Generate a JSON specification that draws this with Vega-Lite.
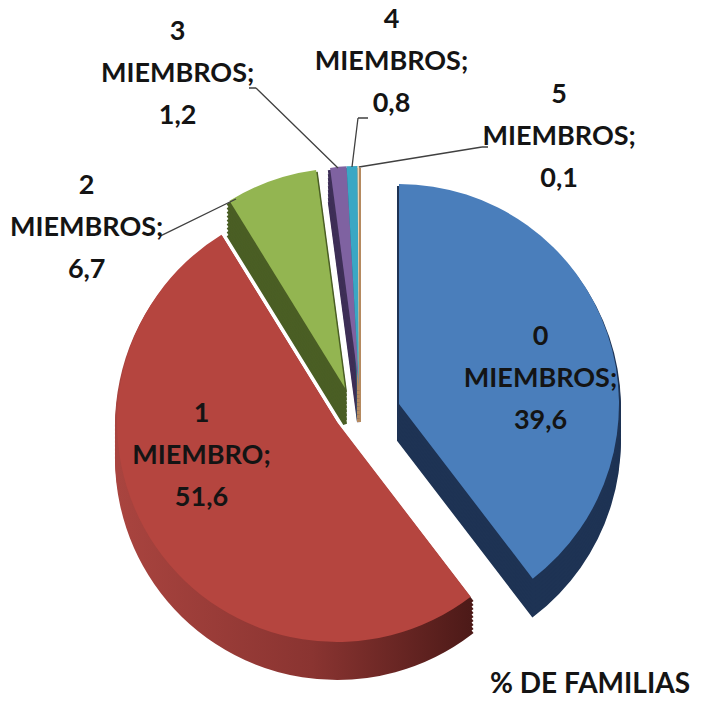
{
  "$schema": "https://vega.github.io/schema/vega-lite/v6.json",
  "width": 710,
  "height": 702,
  "padding": 0,
  "autosize": {"type": "none"},
  "background": "white",
  "config": {"view": {"stroke": null}},
  "title": {
    "text": "% DE FAMILIAS",
    "orient": "bottom",
    "anchor": "end",
    "frame": "group",
    "offset": -9,
    "baseline": "alphabetic",
    "dx": -20,
    "font": "Lato",
    "fontSize": 28,
    "fontWeight": "bold",
    "color": "#141414"
  },
  "data": {
    "values": [
      {"n": 0, "nombre": "MIEMBROS", "pct": 39.6},
      {"n": 1, "nombre": "MIEMBRO", "pct": 51.6},
      {"n": 2, "nombre": "MIEMBROS", "pct": 6.7},
      {"n": 3, "nombre": "MIEMBROS", "pct": 1.2},
      {"n": 4, "nombre": "MIEMBROS", "pct": 0.8},
      {"n": 5, "nombre": "MIEMBROS", "pct": 0.1}
    ]
  },
  "transform": [
    {"stack": "pct", "groupby": [], "sort": [{"field": "n", "order": "ascending"}], "as": ["ini", "fin"]},
    {"calculate": "toString(datum.n) + '\\n' + datum.nombre + ';\\n' + replace(format(datum.pct, '.1f'), '.', ',')", "as": "etiqueta"}
  ],
  "layer": [
    {
      "transform": [{"filter": "datum.n === 2"}],
      "encoding": {
        "theta": {"field": "ini", "type": "quantitative", "scale": {"domain": [0, 100], "range": [0, 6.283185307179586]}},
        "theta2": {"field": "fin"}
      },
      "layer": [
        {"mark": {"type": "arc", "radius": 220, "xOffset": -10, "yOffset": 73, "fill": "#4a5e24", "stroke": "#4a5e24", "strokeWidth": 4}},
        {"mark": {"type": "arc", "radius": 220, "xOffset": -10, "yOffset": 69, "fill": "#4a5e24", "stroke": "#4a5e24", "strokeWidth": 4}},
        {"mark": {"type": "arc", "radius": 220, "xOffset": -10, "yOffset": 65, "fill": "#4a5e24", "stroke": "#4a5e24", "strokeWidth": 4}},
        {"mark": {"type": "arc", "radius": 220, "xOffset": -10, "yOffset": 61, "fill": "#4a5e24", "stroke": "#4a5e24", "strokeWidth": 4}},
        {"mark": {"type": "arc", "radius": 220, "xOffset": -10, "yOffset": 57, "fill": "#4a5e24", "stroke": "#4a5e24", "strokeWidth": 4}},
        {"mark": {"type": "arc", "radius": 220, "xOffset": -10, "yOffset": 53, "fill": "#4a5e24", "stroke": "#4a5e24", "strokeWidth": 4}},
        {"mark": {"type": "arc", "radius": 220, "xOffset": -10, "yOffset": 49, "fill": "#4a5e24", "stroke": "#4a5e24", "strokeWidth": 4}},
        {"mark": {"type": "arc", "radius": 220, "xOffset": -10, "yOffset": 45, "fill": "#4a5e24", "stroke": "#4a5e24", "strokeWidth": 4}},
        {"mark": {"type": "arc", "radius": 220, "xOffset": -10, "yOffset": 41, "fill": "#4a5e24", "stroke": "#4a5e24", "strokeWidth": 4}},
        {"mark": {"type": "arc", "radius": 220, "xOffset": -10, "yOffset": 37, "fill": "#93b551"}}
      ]
    },
    {
      "transform": [{"filter": "datum.n >= 3"}],
      "encoding": {
        "theta": {"field": "ini", "type": "quantitative", "scale": {"domain": [0, 100], "range": [0, 6.283185307179586]}},
        "theta2": {"field": "fin"},
        "fill": {"condition": [{"test": "datum.n === 3", "value": "#3e2f57"}, {"test": "datum.n === 4", "value": "#1f6a80"}], "value": "#b58a60"},
        "stroke": {"condition": [{"test": "datum.n === 3", "value": "#3e2f57"}, {"test": "datum.n === 4", "value": "#1f6a80"}], "value": "#b58a60"}
      },
      "layer": [
        {"mark": {"type": "arc", "radius": 220, "xOffset": 4, "yOffset": 71, "strokeWidth": 4}},
        {"mark": {"type": "arc", "radius": 220, "xOffset": 4, "yOffset": 67, "strokeWidth": 4}},
        {"mark": {"type": "arc", "radius": 220, "xOffset": 4, "yOffset": 63, "strokeWidth": 4}},
        {"mark": {"type": "arc", "radius": 220, "xOffset": 4, "yOffset": 59, "strokeWidth": 4}},
        {"mark": {"type": "arc", "radius": 220, "xOffset": 4, "yOffset": 55, "strokeWidth": 4}},
        {"mark": {"type": "arc", "radius": 220, "xOffset": 4, "yOffset": 51, "strokeWidth": 4}},
        {"mark": {"type": "arc", "radius": 220, "xOffset": 4, "yOffset": 47, "strokeWidth": 4}},
        {"mark": {"type": "arc", "radius": 220, "xOffset": 4, "yOffset": 43, "strokeWidth": 4}},
        {"mark": {"type": "arc", "radius": 220, "xOffset": 4, "yOffset": 39, "strokeWidth": 4}},
        {
          "mark": {"type": "arc", "radius": 220, "xOffset": 4, "yOffset": 35},
          "encoding": {
            "fill": {"condition": [{"test": "datum.n === 3", "value": "#7f62a1"}, {"test": "datum.n === 4", "value": "#3aa7c4"}], "value": "#f3d3ae"},
            "stroke": {"value": null}
          }
        }
      ]
    },
    {
      "transform": [{"filter": "datum.n === 0"}],
      "encoding": {
        "theta": {"field": "ini", "type": "quantitative", "scale": {"domain": [0, 100], "range": [0, 6.283185307179586]}},
        "theta2": {"field": "fin"}
      },
      "layer": [
        {"mark": {"type": "arc", "radius": 220, "xOffset": 44, "yOffset": 89, "fill": "#1e3354", "stroke": "#1e3354", "strokeWidth": 4}},
        {"mark": {"type": "arc", "radius": 220, "xOffset": 44, "yOffset": 85, "fill": "#1e3354", "stroke": "#1e3354", "strokeWidth": 4}},
        {"mark": {"type": "arc", "radius": 220, "xOffset": 44, "yOffset": 81, "fill": "#1e3354", "stroke": "#1e3354", "strokeWidth": 4}},
        {"mark": {"type": "arc", "radius": 220, "xOffset": 44, "yOffset": 77, "fill": "#1e3354", "stroke": "#1e3354", "strokeWidth": 4}},
        {"mark": {"type": "arc", "radius": 220, "xOffset": 44, "yOffset": 73, "fill": "#1e3354", "stroke": "#1e3354", "strokeWidth": 4}},
        {"mark": {"type": "arc", "radius": 220, "xOffset": 44, "yOffset": 69, "fill": "#1e3354", "stroke": "#1e3354", "strokeWidth": 4}},
        {"mark": {"type": "arc", "radius": 220, "xOffset": 44, "yOffset": 65, "fill": "#1e3354", "stroke": "#1e3354", "strokeWidth": 4}},
        {"mark": {"type": "arc", "radius": 220, "xOffset": 44, "yOffset": 61, "fill": "#1e3354", "stroke": "#1e3354", "strokeWidth": 4}},
        {"mark": {"type": "arc", "radius": 220, "xOffset": 44, "yOffset": 57, "fill": "#1e3354", "stroke": "#1e3354", "strokeWidth": 4}},
        {"mark": {"type": "arc", "radius": 220, "xOffset": 44, "yOffset": 53, "fill": "#4a7ebb"}}
      ]
    },
    {
      "transform": [{"filter": "datum.n === 1"}],
      "encoding": {
        "theta": {"field": "ini", "type": "quantitative", "scale": {"domain": [0, 100], "range": [0, 6.283185307179586]}},
        "theta2": {"field": "fin"}
      },
      "layer": [
        {"mark": {"type": "arc", "radius": 220, "xOffset": -18, "yOffset": 107, "strokeWidth": 4,
          "fill": {"gradient": "linear", "x1": 0, "y1": 0, "x2": 1, "y2": 0, "stops": [{"offset": 0, "color": "#a9443f"}, {"offset": 0.55, "color": "#8a3431"}, {"offset": 1, "color": "#4d1a18"}]},
          "stroke": {"gradient": "linear", "x1": 0, "y1": 0, "x2": 1, "y2": 0, "stops": [{"offset": 0, "color": "#a9443f"}, {"offset": 0.55, "color": "#8a3431"}, {"offset": 1, "color": "#4d1a18"}]}}},
        {"mark": {"type": "arc", "radius": 220, "xOffset": -18, "yOffset": 103, "strokeWidth": 4,
          "fill": {"gradient": "linear", "x1": 0, "y1": 0, "x2": 1, "y2": 0, "stops": [{"offset": 0, "color": "#a9443f"}, {"offset": 0.55, "color": "#8a3431"}, {"offset": 1, "color": "#4d1a18"}]},
          "stroke": {"gradient": "linear", "x1": 0, "y1": 0, "x2": 1, "y2": 0, "stops": [{"offset": 0, "color": "#a9443f"}, {"offset": 0.55, "color": "#8a3431"}, {"offset": 1, "color": "#4d1a18"}]}}},
        {"mark": {"type": "arc", "radius": 220, "xOffset": -18, "yOffset": 99, "strokeWidth": 4,
          "fill": {"gradient": "linear", "x1": 0, "y1": 0, "x2": 1, "y2": 0, "stops": [{"offset": 0, "color": "#a9443f"}, {"offset": 0.55, "color": "#8a3431"}, {"offset": 1, "color": "#4d1a18"}]},
          "stroke": {"gradient": "linear", "x1": 0, "y1": 0, "x2": 1, "y2": 0, "stops": [{"offset": 0, "color": "#a9443f"}, {"offset": 0.55, "color": "#8a3431"}, {"offset": 1, "color": "#4d1a18"}]}}},
        {"mark": {"type": "arc", "radius": 220, "xOffset": -18, "yOffset": 95, "strokeWidth": 4,
          "fill": {"gradient": "linear", "x1": 0, "y1": 0, "x2": 1, "y2": 0, "stops": [{"offset": 0, "color": "#a9443f"}, {"offset": 0.55, "color": "#8a3431"}, {"offset": 1, "color": "#4d1a18"}]},
          "stroke": {"gradient": "linear", "x1": 0, "y1": 0, "x2": 1, "y2": 0, "stops": [{"offset": 0, "color": "#a9443f"}, {"offset": 0.55, "color": "#8a3431"}, {"offset": 1, "color": "#4d1a18"}]}}},
        {"mark": {"type": "arc", "radius": 220, "xOffset": -18, "yOffset": 91, "strokeWidth": 4,
          "fill": {"gradient": "linear", "x1": 0, "y1": 0, "x2": 1, "y2": 0, "stops": [{"offset": 0, "color": "#a9443f"}, {"offset": 0.55, "color": "#8a3431"}, {"offset": 1, "color": "#4d1a18"}]},
          "stroke": {"gradient": "linear", "x1": 0, "y1": 0, "x2": 1, "y2": 0, "stops": [{"offset": 0, "color": "#a9443f"}, {"offset": 0.55, "color": "#8a3431"}, {"offset": 1, "color": "#4d1a18"}]}}},
        {"mark": {"type": "arc", "radius": 220, "xOffset": -18, "yOffset": 87, "strokeWidth": 4,
          "fill": {"gradient": "linear", "x1": 0, "y1": 0, "x2": 1, "y2": 0, "stops": [{"offset": 0, "color": "#a9443f"}, {"offset": 0.55, "color": "#8a3431"}, {"offset": 1, "color": "#4d1a18"}]},
          "stroke": {"gradient": "linear", "x1": 0, "y1": 0, "x2": 1, "y2": 0, "stops": [{"offset": 0, "color": "#a9443f"}, {"offset": 0.55, "color": "#8a3431"}, {"offset": 1, "color": "#4d1a18"}]}}},
        {"mark": {"type": "arc", "radius": 220, "xOffset": -18, "yOffset": 83, "strokeWidth": 4,
          "fill": {"gradient": "linear", "x1": 0, "y1": 0, "x2": 1, "y2": 0, "stops": [{"offset": 0, "color": "#a9443f"}, {"offset": 0.55, "color": "#8a3431"}, {"offset": 1, "color": "#4d1a18"}]},
          "stroke": {"gradient": "linear", "x1": 0, "y1": 0, "x2": 1, "y2": 0, "stops": [{"offset": 0, "color": "#a9443f"}, {"offset": 0.55, "color": "#8a3431"}, {"offset": 1, "color": "#4d1a18"}]}}},
        {"mark": {"type": "arc", "radius": 220, "xOffset": -18, "yOffset": 79, "strokeWidth": 4,
          "fill": {"gradient": "linear", "x1": 0, "y1": 0, "x2": 1, "y2": 0, "stops": [{"offset": 0, "color": "#a9443f"}, {"offset": 0.55, "color": "#8a3431"}, {"offset": 1, "color": "#4d1a18"}]},
          "stroke": {"gradient": "linear", "x1": 0, "y1": 0, "x2": 1, "y2": 0, "stops": [{"offset": 0, "color": "#a9443f"}, {"offset": 0.55, "color": "#8a3431"}, {"offset": 1, "color": "#4d1a18"}]}}},
        {"mark": {"type": "arc", "radius": 220, "xOffset": -18, "yOffset": 75, "strokeWidth": 4,
          "fill": {"gradient": "linear", "x1": 0, "y1": 0, "x2": 1, "y2": 0, "stops": [{"offset": 0, "color": "#a9443f"}, {"offset": 0.55, "color": "#8a3431"}, {"offset": 1, "color": "#4d1a18"}]},
          "stroke": {"gradient": "linear", "x1": 0, "y1": 0, "x2": 1, "y2": 0, "stops": [{"offset": 0, "color": "#a9443f"}, {"offset": 0.55, "color": "#8a3431"}, {"offset": 1, "color": "#4d1a18"}]}}},
        {"mark": {"type": "arc", "radius": 220, "xOffset": -18, "yOffset": 71, "fill": "#b5453f"}}
      ]
    },
    {
      "encoding": {
        "theta": {"field": "ini", "type": "quantitative", "scale": {"domain": [0, 100], "range": [0, 6.283185307179586]}},
        "theta2": {"field": "ini"}
      },
      "layer": [
        {"transform": [{"filter": "datum.n === 2"}], "mark": {"type": "arc", "filled": false, "stroke": "#404040", "strokeWidth": 1.3, "radius": 84.5, "radius2": 0, "thetaOffset": -1.47166, "theta2Offset": -1.47166, "xOffset": -119, "yOffset": -152}},
        {"transform": [{"filter": "datum.n === 3"}], "mark": {"type": "arc", "filled": false, "stroke": "#404040", "strokeWidth": 1.3, "radius": 114.6, "radius2": 0, "thetaOffset": -0.66567, "theta2Offset": -0.66567, "xOffset": -17, "yOffset": -183}},
        {"transform": [{"filter": "datum.n === 3"}], "mark": {"type": "arc", "filled": false, "stroke": "#404040", "strokeWidth": 1.3, "radius": 7, "radius2": 0, "thetaOffset": -1.43885, "theta2Offset": -1.43885, "xOffset": -99, "yOffset": -263}},
        {"transform": [{"filter": "datum.n === 4"}], "mark": {"type": "arc", "filled": false, "stroke": "#404040", "strokeWidth": 1.3, "radius": 49.4, "radius2": 0, "thetaOffset": 0.17837, "theta2Offset": 0.17837, "xOffset": -3, "yOffset": -184}},
        {"transform": [{"filter": "datum.n === 4"}], "mark": {"type": "arc", "filled": false, "stroke": "#404040", "strokeWidth": 1.3, "radius": 10, "radius2": 0, "thetaOffset": 1.62734, "theta2Offset": 1.62734, "xOffset": 3, "yOffset": -233}},
        {"transform": [{"filter": "datum.n === 5"}], "mark": {"type": "arc", "filled": false, "stroke": "#404040", "strokeWidth": 1.3, "radius": 124.6, "radius2": 0, "thetaOffset": 1.41581, "theta2Offset": 1.41581, "xOffset": 4, "yOffset": -184}},
        {"transform": [{"filter": "datum.n === 5"}], "mark": {"type": "arc", "filled": false, "stroke": "#404040", "strokeWidth": 1.3, "radius": 6, "radius2": 0, "thetaOffset": 1.57708, "theta2Offset": 1.57708, "xOffset": 127, "yOffset": -204}}
      ]
    },
    {
      "encoding": {
        "theta": {"field": "pct", "type": "quantitative", "stack": true, "scale": {"domain": [0, 100], "range": [0, 6.283185307179586]}},
        "order": {"field": "n", "type": "quantitative"}
      },
      "layer": [
        {"mark": {"type": "text", "font": "Lato", "fontWeight": "bold", "fontSize": 27, "lineHeight": 42, "lineBreak": "\n", "align": "center", "baseline": "middle", "color": "#141414", "radius": 160, "xOffset": 34, "yOffset": 37},
         "encoding": {"text": {"field": "etiqueta", "type": "nominal", "condition": {"test": "datum.n !== 0", "value": ""}}}},
        {"mark": {"type": "text", "font": "Lato", "fontWeight": "bold", "fontSize": 27, "lineHeight": 42, "lineBreak": "\n", "align": "center", "baseline": "middle", "color": "#141414", "radius": 150, "xOffset": -30, "yOffset": -22},
         "encoding": {"text": {"field": "etiqueta", "type": "nominal", "condition": {"test": "datum.n !== 1", "value": ""}}}},
        {"mark": {"type": "text", "font": "Lato", "fontWeight": "bold", "fontSize": 27, "lineHeight": 42, "lineBreak": "\n", "align": "center", "baseline": "middle", "color": "#141414", "radius": 260, "xOffset": -181, "yOffset": 80},
         "encoding": {"text": {"field": "etiqueta", "type": "nominal", "condition": {"test": "datum.n !== 2", "value": ""}}}},
        {"mark": {"type": "text", "font": "Lato", "fontWeight": "bold", "fontSize": 27, "lineHeight": 42, "lineBreak": "\n", "align": "center", "baseline": "middle", "color": "#141414", "radius": 270, "xOffset": -152, "yOffset": -50},
         "encoding": {"text": {"field": "etiqueta", "type": "nominal", "condition": {"test": "datum.n !== 3", "value": ""}}}},
        {"mark": {"type": "text", "font": "Lato", "fontWeight": "bold", "fontSize": 27, "lineHeight": 42, "lineBreak": "\n", "align": "center", "baseline": "middle", "color": "#141414", "radius": 270, "xOffset": 45, "yOffset": -61},
         "encoding": {"text": {"field": "etiqueta", "type": "nominal", "condition": {"test": "datum.n !== 4", "value": ""}}}},
        {"mark": {"type": "text", "font": "Lato", "fontWeight": "bold", "fontSize": 27, "lineHeight": 42, "lineBreak": "\n", "align": "center", "baseline": "middle", "color": "#141414", "radius": 270, "xOffset": 205, "yOffset": 14},
         "encoding": {"text": {"field": "etiqueta", "type": "nominal", "condition": {"test": "datum.n !== 5", "value": ""}}}}
      ]
    }
  ]
}
